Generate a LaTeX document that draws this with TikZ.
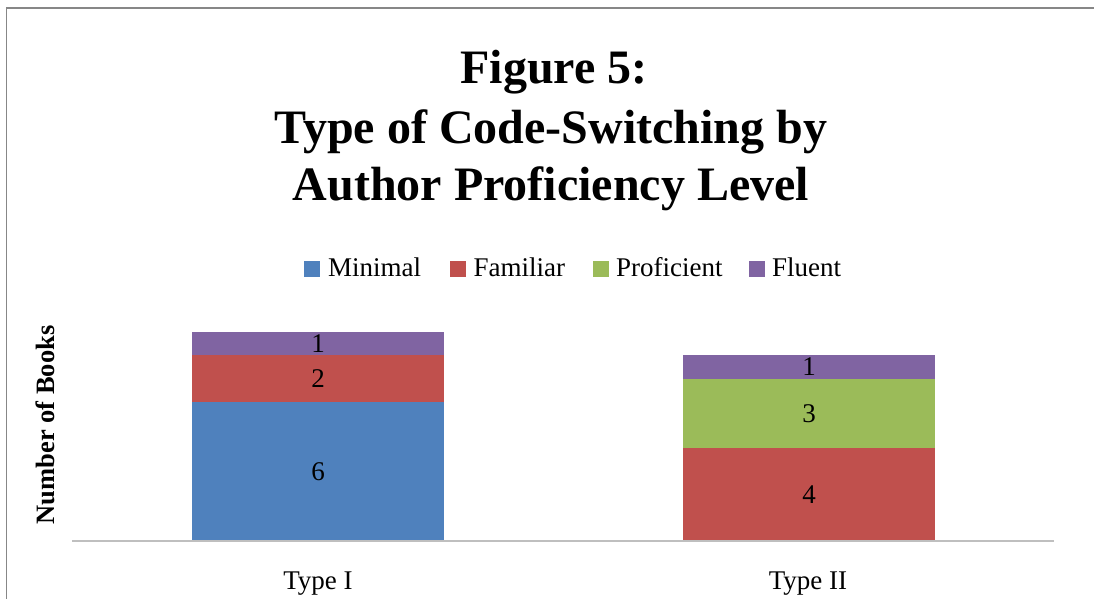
\documentclass[tikz,border=0pt]{standalone}
\usepackage{fontspec}
\setmainfont{Liberation Serif}
\definecolor{cMin}{HTML}{4F81BD}
\definecolor{cFam}{HTML}{C0504D}
\definecolor{cPro}{HTML}{9BBB59}
\definecolor{cFlu}{HTML}{8064A2}
\definecolor{frameGray}{HTML}{878787}
\definecolor{axisGray}{HTML}{BFBFBF}
\tikzset{
  titletext/.style={font=\fontsize{48}{56}\selectfont\bfseries, anchor=base, inner sep=0pt},
  legtext/.style={font=\fontsize{27}{30}\selectfont, anchor=base west, inner sep=0pt},
  legsq/.style={minimum size=16pt, inner sep=0pt, anchor=north west},
  barlabel/.style={font=\fontsize{27}{30}\selectfont, inner sep=0pt},
  catlabel/.style={font=\fontsize{27}{30}\selectfont, anchor=base, inner sep=0pt},
}
\begin{document}
\begin{tikzpicture}[x=1pt,y=-1pt]
\useasboundingbox (0,0) rectangle (1094,599);
% frame
\draw[frameGray, line width=1.3pt] (6.5,599) -- (6.5,8) -- (1094,8);
% title
\node[titletext] (t1) at (554,84) {Figure 5:};
\node[titletext] (t2) at (551,143) {Type of Code-Switching by};
\node[titletext] (t3) at (551,200) {Author Proficiency Level};
% legend
\node[legsq, fill=cMin] (sq1) at (304,261) {};
\node[legtext] (l1) at (328,276.5) {Minimal};
\node[legsq, fill=cFam] (sq2) at (449.5,261) {};
\node[legtext] (l2) at (473.5,276.5) {Familiar};
\node[legsq, fill=cPro] (sq3) at (592.5,261) {};
\node[legtext] (l3) at (616,276.5) {Proficient};
\node[legsq, fill=cFlu] (sq4) at (748.5,261) {};
\node[legtext] (l4) at (772,276.5) {Fluent};
% bars Type I
\fill[cMin] (192,541) rectangle (444,401.7);
\fill[cFam] (192,401.7) rectangle (444,355);
\fill[cFlu] (192,355) rectangle (444,332);
\node[barlabel] (b11) at (318,471.3) {6};
\node[barlabel] (b12) at (318,378.3) {2};
\node[barlabel] (b13) at (318,343.5) {1};
% bars Type II
\fill[cFam] (683,541) rectangle (935,447.7);
\fill[cPro] (683,447.7) rectangle (935,379);
\fill[cFlu] (683,379) rectangle (935,355);
\node[barlabel] (b21) at (809,494.3) {4};
\node[barlabel] (b22) at (809,413.3) {3};
\node[barlabel] (b23) at (809,367) {1};
% axis
\coordinate (axL) at (72,541);
\coordinate (axR) at (1054,541);
\draw[axisGray, line width=1.5pt] (axL) -- (axR);
% axis title
\node[font=\fontsize{26.5}{28}\selectfont\bfseries, rotate=90, inner sep=0pt] (ytitle) at (45,425) {Number of Books};
% categories
\node[catlabel] (c1) at (318,589) {Type I};
\node[catlabel] (c2) at (808,589) {Type II};
\end{tikzpicture}
\end{document}
